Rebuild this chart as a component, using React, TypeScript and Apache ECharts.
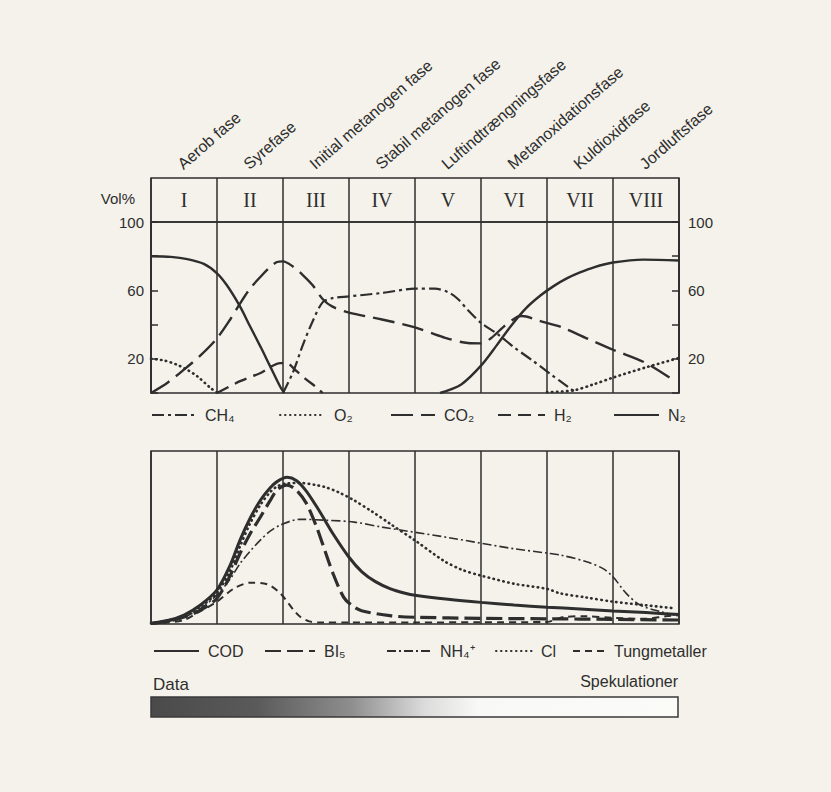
import React, { useEffect, useRef } from 'react';
import * as echarts from 'echarts';

// ---------- data ----------
const romanNumerals = ['I', 'II', 'III', 'IV', 'V', 'VI', 'VII', 'VIII'];
const phaseNames = [
  'Aerob fase',
  'Syrefase',
  'Initial metanogen fase',
  'Stabil metanogen fase',
  'Luftindtrængningsfase',
  'Metanoxidationsfase',
  'Kuldioxidfase',
  'Jordluftsfase',
];
const volLabels = [100, 60, 20];

// upper panel: gas composition, [phase position, Vol%]
const ch4 = [
  [2.0, 0], [2.15, 12], [2.3, 28], [2.45, 42], [2.6, 53], [2.75, 55.5], [3.0, 56.5],
  [3.5, 58.5], [4.0, 61], [4.3, 61], [4.5, 59], [4.65, 55], [4.8, 48.5], [5.0, 41],
  [5.25, 34.5], [5.5, 26.7], [5.78, 19], [6.05, 11.2], [6.32, 3.5], [6.45, 0],
];
const o2 = [
  [0, 20], [0.2, 19], [0.39, 16.6], [0.55, 13.5], [0.7, 9.8], [0.9, 3], [1.0, 0.3],
  [3, '-'],
  [6.0, 0.5], [6.4, 1.5], [6.7, 5], [7.0, 9], [7.5, 15], [8.0, 20.5],
];
const co2 = [
  [0, 0], [0.25, 6], [0.5, 13.7], [0.75, 22], [1.0, 32], [1.2, 43], [1.35, 52.4],
  [1.5, 61], [1.66, 68], [1.8, 73.5], [1.91, 76.6], [2.0, 77], [2.15, 74], [2.3, 69],
  [2.45, 63], [2.6, 55], [2.75, 50.5], [3.0, 47], [3.5, 43], [4.0, 38.4], [4.43, 32.6],
  [4.8, 29.2], [5.0, 29], [5.15, 32], [5.35, 39], [5.55, 44.5], [5.62, 45], [5.9, 42],
  [6.2, 38.8], [6.6, 32], [7.0, 25.3], [7.5, 17.5], [7.94, 6.9],
];
const h2 = [
  [1.0, 0], [1.35, 6.9], [1.66, 11.7], [1.96, 17.5], [2.05, 17.5], [2.2, 13],
  [2.35, 8], [2.5, 3.5], [2.6, 0],
];
const n2 = [
  [0, 80], [0.3, 79.6], [0.55, 78.3], [0.8, 75.5], [1.0, 70], [1.15, 63], [1.35, 50.5],
  [1.5, 39], [1.66, 27], [1.8, 16], [1.96, 3.5], [2.02, 0],
  [3, '-'],
  [4.38, 0], [4.7, 5], [5.0, 16], [5.24, 28], [5.46, 39.5], [5.68, 49.5], [5.9, 57],
  [6.1, 62.5], [6.3, 67], [6.5, 70.5], [6.71, 73.5], [7.0, 76.3], [7.46, 78], [8.0, 77.5],
];

// lower panel: leachate (relative concentration)
const cod = [
  [0, 0.5], [0.25, 2], [0.5, 5.2], [0.75, 11], [1.0, 19.7], [1.2, 34], [1.35, 48.6],
  [1.5, 61], [1.66, 71.7], [1.8, 78.5], [1.91, 82.3], [2.06, 84.8], [2.2, 83], [2.35, 77],
  [2.54, 66], [2.76, 52], [3.0, 38.6], [3.2, 30], [3.4, 24.5], [3.62, 20.5], [3.85, 17.8],
  [4.0, 16.6], [4.5, 14.3], [5.0, 12.5], [5.5, 11], [6.0, 9.7], [6.5, 8.7], [7.0, 7.5],
  [7.5, 6.6], [8.0, 5.5],
];
const bi5 = [
  [0, 0.3], [0.25, 1.5], [0.5, 4], [0.75, 8], [1.0, 14.9], [1.2, 28], [1.35, 40.9],
  [1.5, 52], [1.66, 62], [1.8, 71], [1.91, 77.5], [2.06, 80.3], [2.2, 77.5], [2.35, 70],
  [2.5, 57], [2.6, 46.3], [2.76, 29], [2.92, 15.4], [3.05, 10.5], [3.19, 7.7],
  [3.62, 4.8], [4.0, 3.9], [5.0, 3.3], [6.0, 3], [7.0, 2.7], [8.0, 2.3],
];
const nh4 = [
  [0, 0.3], [0.25, 1.5], [0.5, 4], [0.75, 9], [1.0, 16.8], [1.2, 26], [1.35, 35],
  [1.5, 42], [1.66, 48.6], [1.8, 53.5], [1.96, 57.2], [2.25, 60.5], [2.65, 60],
  [3.08, 58.9], [3.5, 56], [4.0, 53], [4.5, 50], [5.0, 46.7], [5.5, 43.5], [6.0, 41],
  [6.2, 39.9], [6.6, 36], [6.85, 32], [7.0, 27.3], [7.2, 17.7], [7.41, 11], [7.72, 7.1],
  [7.94, 5.2],
];
const cl = [
  [0, 0.5], [0.25, 2], [0.5, 4.5], [0.75, 10], [1.0, 18], [1.2, 31], [1.35, 45],
  [1.5, 58], [1.66, 69], [1.8, 76], [1.91, 79.5], [2.06, 81.3], [2.27, 81.5],
  [2.5, 80.3], [2.65, 79], [2.85, 76], [3.08, 71.4], [3.35, 65], [3.62, 58], [4.0, 48.3],
  [4.43, 36.7], [4.7, 31.5], [5.0, 28], [5.51, 23.2], [6.0, 20.3], [6.2, 17.7],
  [6.6, 15.3], [7.0, 12.9], [7.5, 10.8], [7.93, 9.1],
];
const tungmetaller = [
  [0, 0.2], [0.25, 0.8], [0.5, 2.3], [0.7, 6.4], [1.0, 12.9], [1.26, 20.6], [1.51, 23.9],
  [1.76, 23], [1.96, 17.7], [2.16, 8.1], [2.26, 4.2], [2.4, 1.5], [2.6, 0.8], [3.0, 0.8],
  [4.0, 0.9], [5.0, 1], [6.0, 1.2], [6.25, 4], [6.6, 4.5], [7.0, 3.5], [7.5, 3],
  [7.8, 4.5], [8.0, 5],
];

// ---------- styling ----------
const INK = '#2e2e2e';
const SANS = '"Liberation Sans", Arial, Helvetica, sans-serif';
const SERIF = '"Liberation Serif", "Times New Roman", serif';
const BG = '#f4f2ea';

const line = (
  name: string,
  data: any[],
  axis: number,
  type: any,
  width: number,
  cap: any = 'butt'
) => ({
  name,
  type: 'line',
  xAxisIndex: axis,
  yAxisIndex: axis === 1 ? 1 : 3,
  data,
  smooth: 0.3,
  symbol: 'none',
  connectNulls: false,
  silent: true,
  lineStyle: { color: INK, width, type, cap },
  itemStyle: { color: INK },
});

const legendAt = (name: string, left: number, top: number, itemWidth: number) => ({
  data: [name],
  left,
  top,
  padding: 0,
  itemWidth,
  itemHeight: 12,
  selectedMode: false,
  itemStyle: { opacity: 0 },
  textStyle: { color: INK, fontSize: 16, fontFamily: SANS, padding: [0, 0, 0, 4] },
});

export default function App() {
  const ref = useRef<HTMLDivElement>(null);

  useEffect(() => {
    if (!ref.current) return;
    const chart = echarts.init(ref.current, null, { renderer: 'svg' });

    const plotX = (gridIndex: number) => ({
      gridIndex,
      type: 'value',
      min: 0,
      max: 8,
      interval: 1,
      axisLine: { show: false },
      axisTick: { show: false },
      axisLabel: { show: false },
      splitLine: { show: true, lineStyle: { color: INK, width: 1.5 } },
    });

    const volAxis = (position: 'left' | 'right') => ({
      gridIndex: 1,
      type: 'value',
      position,
      min: 0,
      max: 100,
      interval: 20,
      name: position === 'left' ? 'Vol%' : '',
      nameLocation: 'end',
      nameGap: 24,
      nameTextStyle: {
        color: INK,
        fontSize: 15,
        fontFamily: SANS,
        align: 'right',
        verticalAlign: 'middle',
        padding: [0, 16, 0, 0],
      },
      axisLine: { show: true, lineStyle: { color: INK, width: 1.5 } },
      axisTick: { show: true, inside: true, length: 7, lineStyle: { color: INK, width: 1.5 } },
      axisLabel: {
        color: INK,
        fontSize: 15,
        fontFamily: SANS,
        margin: position === 'left' ? 7 : 9,
        formatter: (v: number) => (volLabels.includes(v) ? String(v) : ''),
      },
      splitLine: { show: false },
    });

    const option: any = {
      animation: false,
      backgroundColor: BG,
      grid: [
        { left: 151, top: 178, width: 528, height: 44, show: true, borderColor: INK, borderWidth: 1.5, backgroundColor: 'transparent' },
        { left: 151, top: 222, width: 528, height: 171, show: true, borderColor: INK, borderWidth: 1.5, backgroundColor: 'transparent' },
        { left: 151, top: 451, width: 528, height: 173, show: true, borderColor: INK, borderWidth: 1.5, backgroundColor: 'transparent' },
        { left: 147, top: 178, width: 528, height: 44, show: false },
      ],
      xAxis: [
        {
          gridIndex: 0,
          type: 'category',
          data: romanNumerals,
          position: 'bottom',
          axisLine: { show: false },
          axisTick: { show: false },
          axisLabel: {
            inside: true,
            margin: 22,
            verticalAlign: 'middle',
            interval: 0,
            color: INK,
            fontSize: 20,
            fontFamily: SERIF,
          },
          splitLine: { show: true, interval: 0, lineStyle: { color: INK, width: 1.5 } },
        },
        plotX(1),
        plotX(2),
        {
          gridIndex: 3,
          type: 'category',
          data: phaseNames,
          position: 'top',
          axisLine: { show: false },
          axisTick: { show: false },
          splitLine: { show: false },
          axisLabel: {
            interval: 0,
            rotate: 41,
            margin: 12,
            color: INK,
            fontSize: 16,
            fontFamily: SANS,
          },
        },
      ],
      yAxis: [
        { gridIndex: 0, type: 'value', show: false },
        volAxis('left'),
        volAxis('right'),
        { gridIndex: 2, type: 'value', min: 0, max: 100, show: false },
        { gridIndex: 3, type: 'value', show: false },
      ],
      legend: [
        legendAt('CH₄', 151, 407, 44),
        legendAt('O₂', 279, 407, 45),
        legendAt('CO₂', 390, 407, 44),
        legendAt('H₂', 497, 407, 47),
        legendAt('N₂', 613, 407, 45),
        legendAt('COD', 153, 643, 45),
        legendAt('BI₅', 264, 643, 50),
        legendAt('NH₄⁺', 386, 643, 44),
        legendAt('Cl', 495, 643, 36),
        legendAt('Tungmetaller', 572, 643, 32),
      ],
      series: [
        line('CH₄', ch4, 1, [12, 4, 3, 4], 2.2),
        line('O₂', o2, 1, [0.5, 4.5], 2.6, 'round'),
        line('CO₂', co2, 1, [22, 8], 2.4),
        line('H₂', h2, 1, [13, 7], 2.4),
        line('N₂', n2, 1, 'solid', 2.4),
        line('COD', cod, 2, 'solid', 3),
        line('BI₅', bi5, 2, [16, 6], 3.2),
        line('NH₄⁺', nh4, 2, [9, 3, 2, 3], 1.6),
        line('Cl', cl, 2, [0.5, 4.5], 2.6, 'round'),
        line('Tungmetaller', tungmetaller, 2, [7, 5], 2),
      ],
      graphic: [
        {
          type: 'text',
          left: 153,
          top: 676,
          style: { text: 'Data', fill: INK, fontSize: 17, fontFamily: SANS },
        },
        {
          type: 'text',
          right: 831 - 678,
          top: 673,
          style: { text: 'Spekulationer', fill: INK, fontSize: 16, fontFamily: SANS },
        },
        {
          type: 'rect',
          shape: { x: 151, y: 697, width: 527, height: 20 },
          style: {
            fill: new echarts.graphic.LinearGradient(0, 0, 1, 0, [
              { offset: 0, color: '#4a4a4a' },
              { offset: 0.2, color: '#5a5a5a' },
              { offset: 0.38, color: '#8e8e8e' },
              { offset: 0.52, color: '#dcdcdc' },
              { offset: 0.62, color: '#f8f8f6' },
              { offset: 1, color: '#fbfbf8' },
            ]),
            stroke: '#3a3a3a',
            lineWidth: 1.5,
          },
        },
      ],
    };

    chart.setOption(option);
    return () => chart.dispose();
  }, []);

  return (
    <div
      ref={ref}
      style={{ position: 'fixed', left: 0, top: 0, width: 831, height: 792, background: BG }}
    />
  );
}
